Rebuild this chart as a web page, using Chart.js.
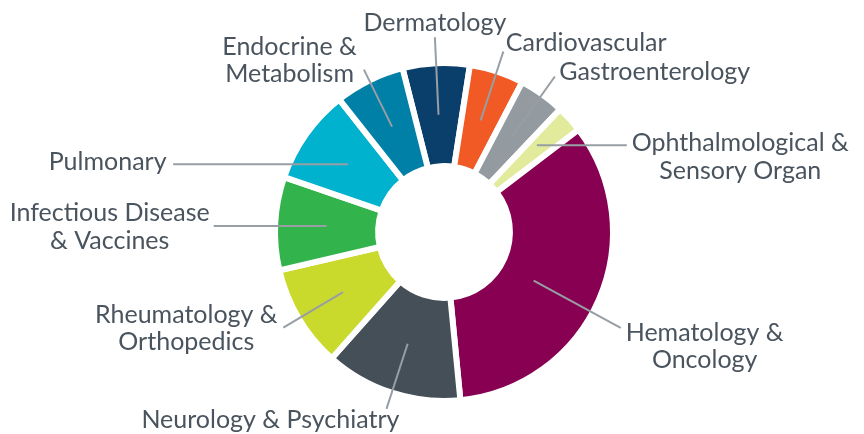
<!DOCTYPE html>
<html>
<head>
<meta charset="utf-8">
<script src="https://cdn.jsdelivr.net/npm/chart.js@4.4.1/dist/chart.umd.min.js"></script>
<style>
  html, body { margin: 0; padding: 0; background: #ffffff; }
  #wrap { width: 864px; height: 434px; }
</style>
</head>
<body>
<div id="wrap"><canvas id="c" width="864" height="434"></canvas></div>
<script>
// ---- data ----
const categories = [
  'Dermatology', 'Cardiovascular', 'Gastroenterology', 'Ophthalmological & Sensory Organ',
  'Hematology & Oncology', 'Neurology & Psychiatry', 'Rheumatology & Orthopedics',
  'Infectious Disease & Vaccines', 'Pulmonary', 'Endocrine & Metabolism'
];
const shares = [6.4, 5.2, 4.4, 2.6, 33.8, 13.1, 9.8, 8.9, 9.1, 6.7];
const labelLines = [
  ['Dermatology'], ['Cardiovascular'], ['Gastroenterology'], ['Ophthalmological &', 'Sensory Organ'],
  ['Hematology &', 'Oncology'], ['Neurology & Psychiatry'], ['Rheumatology &', 'Orthopedics'],
  ['Infectious Disease', '& Vaccines'], ['Pulmonary'], ['Endocrine &', 'Metabolism']
];
const colors = ['#0b3f6b', '#f15a24', '#939aa0', '#e2ea9c', '#870052', '#454f58', '#c9da2c', '#33b34b', '#00b2cd', '#0080a6'];

// ---- label / leader layout (styling only) ----
const leaderCfg = [
  { type: 'radial', rOut: 195, align: 'center', dx: 0, dy: -6 },
  { type: 'radial', rOut: 190, align: 'left', dx: 2.5, dy: -1 },
  { type: 'radial', rOut: 191, align: 'left', dx: 4.5, dy: 4 },
  { type: 'horizontal', frac: 0.38, rIn: 127, len: 90, align: 'left', dx: 5, dy: 6 },
  { type: 'radial', frac: 0.54, rIn: 102, rOut: 201, align: 'left', dx: 5, dy: 13 },
  { type: 'radial', rOut: 186, align: 'right', dx: 13, dy: 19 },
  { type: 'radial', rOut: 187, align: 'right', dx: -5.7, dy: -5 },
  { type: 'horizontal', len: 113, align: 'right', dx: -4, dy: -5 },
  { type: 'horizontal', len: 175, align: 'right', dx: -6.6, dy: 6 },
  { type: 'radial', rOut: 181, align: 'right', dx: -7, dy: -15 }
];
const FONT = '25px Lato';
const LINE_H = 27.5;
const TEXT_COLOR = '#4a545e';
const LEADER_COLOR = '#979ea4';

const leaderPlugin = {
  id: 'leaders',
  beforeDraw(chart) {
    const ctx = chart.ctx;
    ctx.save();
    ctx.fillStyle = '#ffffff';
    ctx.fillRect(0, 0, chart.width, chart.height);
    ctx.restore();
  },
  afterDatasetsDraw(chart) {
    const ctx = chart.ctx;
    const meta = chart.getDatasetMeta(0);
    ctx.save();
    meta.data.forEach((arc, i) => {
      const cfg = leaderCfg[i];
      const p = arc.getProps(['x', 'y', 'startAngle', 'endAngle', 'innerRadius', 'outerRadius'], true);
      const frac = cfg.frac !== undefined ? cfg.frac : 0.5;
      const ang = p.startAngle + (p.endAngle - p.startAngle) * frac;
      const rIn = cfg.rIn !== undefined ? cfg.rIn : (p.innerRadius + p.outerRadius) / 2;
      const sx = p.x + rIn * Math.cos(ang);
      const sy = p.y + rIn * Math.sin(ang);
      let ex, ey;
      if (cfg.type === 'radial') {
        ex = p.x + cfg.rOut * Math.cos(ang);
        ey = p.y + cfg.rOut * Math.sin(ang);
      } else {
        ex = sx + (Math.cos(ang) >= 0 ? cfg.len : -cfg.len);
        ey = sy;
      }
      ctx.strokeStyle = LEADER_COLOR;
      ctx.lineWidth = 2;
      ctx.beginPath();
      ctx.moveTo(sx, sy);
      ctx.lineTo(ex, ey);
      ctx.stroke();

      // text block
      ctx.font = FONT;
      ctx.fillStyle = TEXT_COLOR;
      ctx.textBaseline = 'alphabetic';
      ctx.textAlign = 'center';
      const lines = labelLines[i];
      const w = Math.max(...lines.map(l => ctx.measureText(l).width));
      const ax = ex + cfg.dx;
      let cx;
      if (cfg.align === 'left') cx = ax + w / 2;
      else if (cfg.align === 'right') cx = ax - w / 2;
      else cx = ax;
      const by = ey + cfg.dy;
      lines.forEach((l, k) => ctx.fillText(l, cx, by + k * LINE_H));
    });
    ctx.restore();
  }
};

new Chart(document.getElementById('c'), {
  type: 'doughnut',
  data: {
    labels: categories,
    datasets: [{
      data: shares,
      backgroundColor: colors,
      borderColor: '#ffffff',
      borderWidth: 6,
      hoverOffset: 0
    }]
  },
  options: {
    responsive: false,
    animation: false,
    rotation: -14.2,
    radius: 169,
    cutout: '39%',
    layout: { padding: { left: 275, right: 251, top: 63, bottom: 33 } },
    plugins: { legend: { display: false }, tooltip: { enabled: false } },
    events: []
  },
  plugins: [leaderPlugin]
});
</script>
</body>
</html>
